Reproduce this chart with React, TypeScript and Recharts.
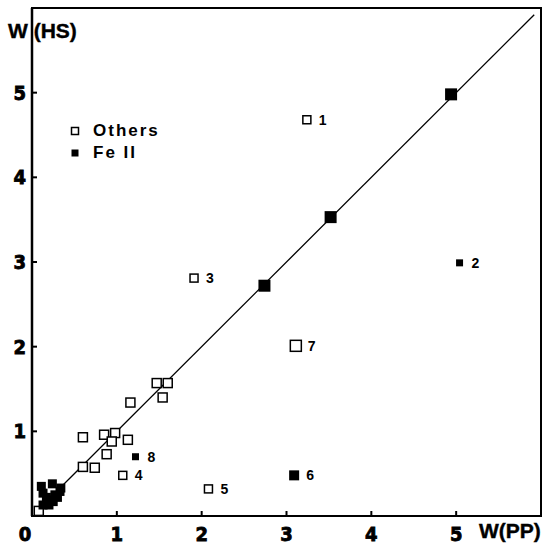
import { ScatterChart, Scatter, XAxis, YAxis, ReferenceLine, ReferenceArea, Legend } from 'recharts'

// W(PP) on x, W(HS) on y
const othersX = [1.47, 1.6, 1.54, 1.16, 0.6, 0.85, 0.98, 0.94, 1.13, 0.88, 0.6, 0.74, 0.08]
const othersY = [1.57, 1.57, 1.4, 1.34, 0.93, 0.96, 0.98, 0.88, 0.9, 0.73, 0.58, 0.57, 0.06]

const othersLabX = [3.24, 1.91, 1.07, 2.08]
const othersLabY = [4.68, 2.81, 0.48, 0.32]
const othersLab = ['1', '3', '4', '5']

const othersBigX = [3.11]
const othersBigY = [2.01]
const othersBigLab = ['7']

const feLineX = [2.74, 3.52, 4.94]
const feLineY = [2.72, 3.53, 4.98]

const feLabX = [5.04, 1.22]
const feLabY = [2.99, 0.7]
const feLab = ['2', '8']

const feBigX = [3.09]
const feBigY = [0.48]
const feBigLab = ['6']

const feClusterX = [0.11, 0.24, 0.13, 0.19, 0.27, 0.33, 0.13, 0.2, 0.25, 0.34, 0.3, 0.17]
const feClusterY = [0.35, 0.38, 0.27, 0.19, 0.25, 0.29, 0.13, 0.13, 0.17, 0.33, 0.22, 0.22]

const xTicks = [0, 1, 2, 3, 4, 5]
const yTicks = [1, 2, 3, 4, 5]
const diagFrom = 0.33
const diagTo = 5.92

const legendItems = [
  { name: 'Others', filled: false },
  { name: 'Fe II', filled: true },
]

const pts = (xs: number[], ys: number[], labels?: string[]) =>
  xs.map((x, i) => ({ x, y: ys[i], label: labels ? labels[i] : '' }))

const tickFont = { fontFamily: "'Liberation Sans Narrow', 'DejaVu Sans Condensed', sans-serif", fontWeight: 700, fontSize: 20, fill: '#000', stroke: '#000', strokeWidth: 0.8 }
const titleFont = { fontFamily: "'Liberation Sans', Arial, sans-serif", fontWeight: 700, fontSize: 21, fill: '#000', stroke: '#000', strokeWidth: 0.4 }

// square marker, with the point number to its right when there is one
const square = (side: number, filled: boolean) => (props: any) => {
  const { cx, cy, payload } = props
  return (
    <g>
      <rect x={cx - side / 2} y={cy - side / 2} width={side} height={side}
        fill={filled ? '#000' : '#fff'} stroke="#000" strokeWidth={filled ? 0 : 1.5} />
      {payload.label && (
        <text x={cx + 12} y={cy + 5} style={{ fontFamily: "'Liberation Sans', Arial, sans-serif", fontWeight: 700, fontSize: 14, fill: '#000' }}>
          {payload.label}
        </text>
      )}
    </g>
  )
}

const XTick = ({ x, y, payload }: any) => (
  <g>
    {payload.value !== 0 && <line x1={x} x2={x} y1={y} y2={y - 5} stroke="#000" strokeWidth={2} />}
    <text x={payload.value === 0 ? x - 7 : x} y={y + 25} textAnchor="middle" style={tickFont}>{payload.value}</text>
  </g>
)

const YTick = ({ x, y, payload }: any) => (
  <g>
    <line x1={x} x2={x + 5} y1={y} y2={y} stroke="#000" strokeWidth={2} />
    <text x={x - 6} y={y + 7} textAnchor="end" style={tickFont}>{payload.value}</text>
  </g>
)

const renderLegend = () => (
  <div style={{ fontFamily: "'Liberation Sans', Arial, sans-serif", fontWeight: 700, fontSize: 17, letterSpacing: 2, color: '#000' }}>
    {legendItems.map(it => (
      <div key={it.name} style={{ display: 'flex', alignItems: 'center', height: 22 }}>
        <svg width={10} height={10} style={{ marginRight: 13 }}>
          <rect x={1.5} y={1.5} width={7} height={7} fill={it.filled ? '#000' : '#fff'} stroke="#000" strokeWidth={it.filled ? 0 : 1.5} />
        </svg>
        <span>{it.name}</span>
      </div>
    ))}
  </div>
)

export default function App() {
  return (
    <div style={{ position: 'absolute', left: 0, top: 0, width: 544, height: 545, background: '#fff' }}>
      <ScatterChart width={544} height={545} margin={{ top: 8, right: 3, bottom: 0, left: 0 }}>
        <XAxis type="number" dataKey="x" domain={[0, 6]} ticks={xTicks} height={29}
          tickSize={0} tickMargin={0} tick={<XTick />} axisLine={{ stroke: '#000', strokeWidth: 2 }}
          label={(p: any) => (
            <text x={479} y={538} style={titleFont}>W(PP)</text>
          )} />
        <YAxis type="number" dataKey="y" domain={[0, 6]} ticks={yTicks} width={32}
          tickSize={0} tickMargin={0} tick={<YTick />} axisLine={{ stroke: '#000', strokeWidth: 2.5 }}
          label={(p: any) => (
            <text x={8} y={38} style={titleFont}>W (HS)</text>
          )} />
        <ReferenceArea x1={0} x2={6} y1={0} y2={6} fill="none" fillOpacity={0} stroke="#000" strokeWidth={2} />
        <ReferenceLine segment={[{ x: diagFrom, y: diagFrom }, { x: diagTo, y: diagTo }]} stroke="#000" strokeWidth={1.3} />
        <Legend layout="vertical" align="center" verticalAlign="middle" content={renderLegend}
          wrapperStyle={{ left: 70, top: 120, width: 120 }} />
        <Scatter name="Others" data={pts(othersX, othersY)} shape={square(9, false)} isAnimationActive={false} legendType="none" />
        <Scatter name="Others labeled" data={pts(othersLabX, othersLabY, othersLab)} shape={square(8, false)} isAnimationActive={false} legendType="none" />
        <Scatter name="Others 7" data={pts(othersBigX, othersBigY, othersBigLab)} shape={square(11, false)} isAnimationActive={false} legendType="none" />
        <Scatter name="Fe II line" data={pts(feLineX, feLineY)} shape={square(12, true)} isAnimationActive={false} legendType="none" />
        <Scatter name="Fe II labeled" data={pts(feLabX, feLabY, feLab)} shape={square(7, true)} isAnimationActive={false} legendType="none" />
        <Scatter name="Fe II 6" data={pts(feBigX, feBigY, feBigLab)} shape={square(10, true)} isAnimationActive={false} legendType="none" />
        <Scatter name="Fe II cluster" data={pts(feClusterX, feClusterY)} shape={square(9, true)} isAnimationActive={false} legendType="none" />
      </ScatterChart>
    </div>
  )
}
